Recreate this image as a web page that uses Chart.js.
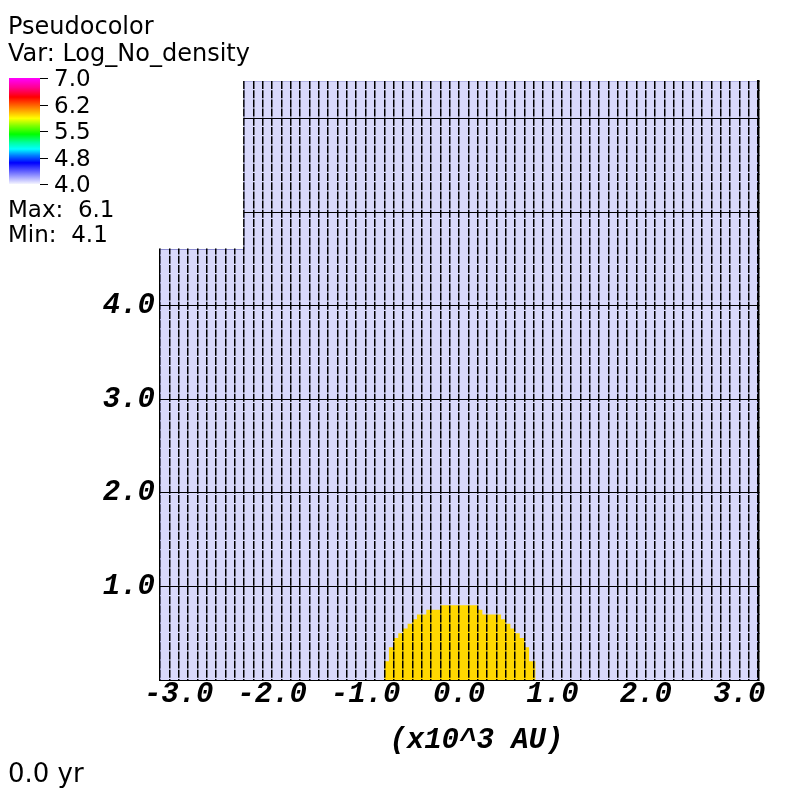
<!DOCTYPE html>
<html>
<head>
<meta charset="utf-8">
<title>Pseudocolor Log_No_density</title>
<script src="https://cdn.jsdelivr.net/npm/chart.js@4/dist/chart.umd.min.js"></script>
<style>
    html, body { margin: 0; padding: 0; background: #fff; }
    #wrap { position: relative; width: 800px; height: 800px; overflow: hidden; }
    #chart { position: absolute; left: 0; top: 0; }
    .txt {
        position: absolute;
        font-family: "DejaVu Sans", sans-serif;
        font-size: 22px;
        line-height: 22px;
        color: #000;
        white-space: pre;
    }
    #colorbar {
        position: absolute;
        left: 9px; top: 78px; width: 31px; height: 106px;
        background: linear-gradient(to bottom,
            #ff00ff 0%, #ff0090 9%, #ff0000 18%, #ff8000 28%, #ffff00 38%,
            #80ff00 45%, #00ff00 53%, #00ffa0 61%, #00ffff 67%, #0080ff 73%,
            #0000ff 80%, #6060ff 88%, #f4f4ff 100%);
    }
    .cbtick { position: absolute; left: 40px; width: 8px; height: 1px; background: #000; }
</style>
</head>
<body>
<div id="wrap">
    <canvas id="chart" width="800" height="800"></canvas>
</div>
<script>
// outline of the mesh domain (x10^3 AU), top-left block missing
const domainX = [-3.2, -3.2, -2.3, -2.3, 3.2, 3.2];
const domainY = [0, 4.6, 4.6, 6.4, 6.4, 0];

// yellow dense clump: left edge of each column and its height
const cloudX = [-0.80, -0.75, -0.70, -0.65, -0.60, -0.55, -0.50, -0.45, -0.35, -0.20,
                0.20, 0.25, 0.45, 0.50, 0.55, 0.60, 0.65, 0.70, 0.75, 0.82];
const cloudY = [0.20, 0.35, 0.45, 0.50, 0.55, 0.60, 0.65, 0.70, 0.75, 0.80,
                0.75, 0.70, 0.65, 0.60, 0.55, 0.50, 0.45, 0.35, 0.20, 0.00];

const xTickValues = [-3, -2, -1, 0, 1, 2, 3];
const xTickLabels = ['-3.0', '-2.0', '-1.0', '0.0', '1.0', '2.0', '3.0'];
const yTickValues = [0, 1, 2, 3, 4, 5, 6];
const yTickLabels = ['', '1.0', '2.0', '3.0', '4.0', '', ''];

const colorbarLabels = ['7.0', '6.2', '5.5', '4.8', '4.0'];
const varName = 'Log_No_density';
const varMax = '6.1';
const varMin = '4.1';
const timeLabel = '0.0 yr';

const LAVENDER = 'rgb(217,217,251)';
const GOLD = 'rgb(255,216,0)';
const axisFont = { family: '"Liberation Mono", monospace', size: 29, style: 'italic', weight: 'bold' };

// white out the missing block so mesh lines don't show there
const notchMask = {
    id: 'notchMask',
    afterDraw(chart) {
        const { ctx, chartArea, scales } = chart;
        const right = scales.x.getPixelForValue(domainX[2]);
        const bottom = scales.y.getPixelForValue(domainY[1]);
        ctx.save();
        ctx.fillStyle = '#fff';
        ctx.fillRect(chartArea.left - 8, chartArea.top - 4,
            right - 1 - (chartArea.left - 8), bottom - 1 - (chartArea.top - 4));
        ctx.restore();
    }
};

function buildLegend() {
    const wrap = document.getElementById('wrap');
    const add = (text, left, top, size) => {
        const el = document.createElement('div');
        el.className = 'txt';
        el.textContent = text;
        el.style.left = left + 'px';
        el.style.top = top + 'px';
        if (size) { el.style.fontSize = size + 'px'; el.style.lineHeight = size + 'px'; }
        wrap.appendChild(el);
    };
    add('Pseudocolor', 8, 14, 24);
    add('Var: ' + varName, 8, 41, 24);

    const bar = document.createElement('div');
    bar.id = 'colorbar';
    wrap.appendChild(bar);
    colorbarLabels.forEach((lab, i) => {
        const y = 78 + i * 26.5;
        const t = document.createElement('div');
        t.className = 'cbtick';
        t.style.top = Math.round(y) + 'px';
        wrap.appendChild(t);
        add(lab, 54, Math.round(y) - 11, 23);
    });
    add('Max:  ' + varMax, 8, 198, 23);
    add('Min:  ' + varMin, 8, 223, 23);
    add(timeLabel, 8, 760, 26);
}

// mesh row stubs along the left/right edges, drawn as inward ticks
function meshEdge(position) {
    return {
        type: 'linear',
        position: position,
        weight: 0,
        min: 0,
        max: 6.4,
        afterFit: s => { s.width = 1; },
        ticks: { stepSize: 0.1, display: false, autoSkip: false },
        grid: { drawOnChartArea: false, drawTicks: true, tickLength: -5, color: '#000', lineWidth: 1 },
        border: { display: true, color: '#000', width: position === 'right' ? 2.5 : 1.5 }
    };
}

function drawChart() {
    const ctx = document.getElementById('chart').getContext('2d');
    new Chart(ctx, {
        type: 'scatter',
        data: {
            datasets: [{
                label: 'clump',
                data: cloudX.map((x, i) => ({ x: x, y: cloudY[i] })),
                showLine: true,
                stepped: 'before',
                fill: 'origin',
                backgroundColor: GOLD,
                borderColor: GOLD,
                borderWidth: 0,
                pointRadius: 0,
                order: 0
            }, {
                label: 'domain',
                data: domainX.map((x, i) => ({ x: x, y: domainY[i] })),
                showLine: true,
                fill: 'origin',
                backgroundColor: LAVENDER,
                borderColor: '#8c8cd0',
                borderWidth: 1,
                pointRadius: 0,
                order: 1
            }]
        },
        options: {
            responsive: false,
            animation: false,
            layout: { padding: { top: 80, right: 41, bottom: 0, left: 0 } },
            plugins: {
                legend: { display: false },
                tooltip: { enabled: false }
            },
            scales: {
                x: {
                    type: 'linear',
                    position: 'bottom',
                    min: -3.2,
                    max: 3.2,
                    afterBuildTicks: s => { s.ticks = xTickValues.map(v => ({ value: v })); },
                    afterFit: s => { s.height = 120; },
                    ticks: {
                        autoSkip: false,
                        maxRotation: 0,
                        padding: -3,
                        color: '#000',
                        font: axisFont,
                        callback: (v, i) => xTickLabels[i]
                    },
                    grid: { drawOnChartArea: false, drawTicks: false },
                    border: { display: true, color: '#000', width: 1.5 },
                    title: {
                        display: true,
                        text: '  (x10^3 AU)',
                        color: '#000',
                        font: axisFont,
                        padding: { top: 0, bottom: 42 }
                    }
                },
                mesh: {
                    type: 'linear',
                    axis: 'x',
                    position: 'top',
                    min: -3.2,
                    max: 3.2,
                    afterFit: s => { s.height = 1; },
                    ticks: { stepSize: 0.1, display: false, autoSkip: false },
                    grid: { color: '#000', lineWidth: 1.5, drawTicks: false, z: 1 },
                    border: { display: false, dash: [8, 1.2] }
                },
                y: {
                    type: 'linear',
                    position: 'left',
                    weight: 1,
                    min: 0,
                    max: 6.4,
                    afterBuildTicks: s => { s.ticks = yTickValues.map(v => ({ value: v })); },
                    afterFit: s => { s.width = 159; },
                    ticks: {
                        autoSkip: false,
                        padding: 4,
                        color: '#000',
                        font: axisFont,
                        callback: (v, i) => yTickLabels[i]
                    },
                    grid: { color: '#000', lineWidth: 1, drawTicks: false, z: 1 },
                    border: { display: false }
                },
                meshLeft: meshEdge('left'),
                meshRight: meshEdge('right')
            }
        },
        plugins: [notchMask]
    });
}

document.addEventListener('DOMContentLoaded', () => {
    buildLegend();
    drawChart();
});
</script>
</body>
</html>
